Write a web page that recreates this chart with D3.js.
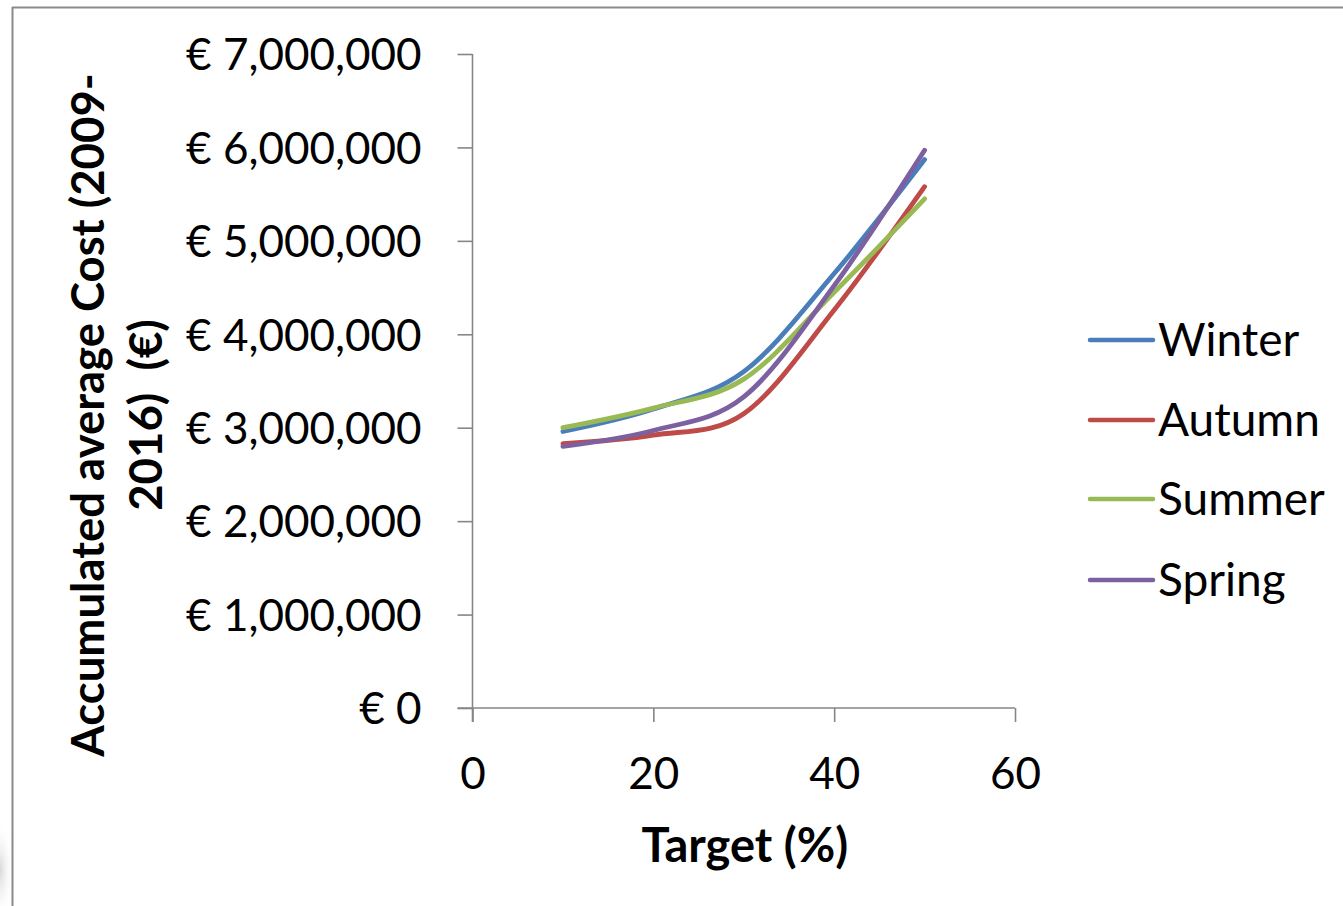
<!DOCTYPE html>
<html>
<head>
<meta charset="utf-8">
<script src="https://cdn.jsdelivr.net/npm/d3@7"></script>
<style>
html,body{margin:0;padding:0;background:#fff;}
svg{display:block;font-family:Lato, "Open Sans", sans-serif;}
</style>
</head>
<body>
<svg id="chart" width="1343" height="906"></svg>
<script>
// ---- data ----
const targets = [10, 20, 30, 40, 50];
const seriesNames = ["Winter", "Autumn", "Summer", "Spring"];
const winter = [2960000, 3200000, 3600000, 4650000, 5870000];
const autumn = [2830000, 2920000, 3150000, 4260000, 5580000];
const summer = [3000000, 3210000, 3520000, 4450000, 5450000];
const spring = [2800000, 2970000, 3330000, 4520000, 5970000];
const seriesColors = ["#4A7EBB", "#BE4B48", "#98B954", "#7D60A0"];
const xTicks = [0, 20, 40, 60];
const yTicks = [0, 1000000, 2000000, 3000000, 4000000, 5000000, 6000000, 7000000];
const xTitle = "Target (%)";
const yTitleLines = ["Accumulated average Cost (2009-", "2016)  (€)"];

const seriesValues = [winter, autumn, summer, spring];

const svg = d3.select("#chart");

// soft shadow at bottom-left corner
const defs = svg.append("defs");
const rg = defs.append("radialGradient").attr("id", "shadow");
rg.append("stop").attr("offset", "0%").attr("stop-color", "#d8d8d8");
rg.append("stop").attr("offset", "100%").attr("stop-color", "#ffffff").attr("stop-opacity", 0);
svg.append("ellipse").attr("cx", 0).attr("cy", 870).attr("rx", 14).attr("ry", 50)
  .attr("fill", "url(#shadow)");

// frame
svg.append("line").attr("x1", 12).attr("x2", 1343).attr("y1", 7.5).attr("y2", 7.5)
  .attr("stroke", "#8a8a8a").attr("stroke-width", 2);
svg.append("line").attr("x1", 12.5).attr("x2", 12.5).attr("y1", 7).attr("y2", 906)
  .attr("stroke", "#8a8a8a").attr("stroke-width", 2);

const pLeft = 472.5, pRight = 1015, pTop = 54, pBottom = 708;
const x = d3.scaleLinear().domain([0, 60]).range([pLeft, pRight]);
const y = d3.scaleLinear().domain([0, 7000000]).range([pBottom, pTop]);

const axisColor = "#868686";
const fmt = v => "€ " + d3.format(",")(v);

const yAxis = svg.append("g").attr("transform", `translate(${pLeft},0)`)
  .call(d3.axisLeft(y).tickValues(yTicks).tickSize(15).tickPadding(36).tickFormat(fmt));
const xAxis = svg.append("g").attr("transform", `translate(0,${pBottom})`)
  .call(d3.axisBottom(x).tickValues(xTicks).tickSize(14).tickPadding(36).tickFormat(d3.format("d")));

[yAxis, xAxis].forEach(a => {
  a.select(".domain").attr("stroke", axisColor).attr("stroke-width", 1.6);
  a.selectAll(".tick line").attr("stroke", axisColor).attr("stroke-width", 1.6);
  a.selectAll("text").attr("fill", "#000").attr("font-size", 44).attr("font-family", "Lato, 'Open Sans', sans-serif");
});
yAxis.select(".domain").attr("d", `M0,${pTop}V${pBottom + 14}`);
xAxis.select(".domain").attr("d", `M${pLeft - 15},0H${pRight}`);
yAxis.selectAll(".tick text").attr("dy", "0.36em");
xAxis.selectAll(".tick text").attr("dy", "0.71em");

// lines
const line = d3.line()
  .x((d, i) => x(targets[i]))
  .y(d => y(d))
  .curve(d3.curveCatmullRom.alpha(0));

svg.append("g").selectAll("path").data(seriesValues).join("path")
  .attr("d", d => line(d))
  .attr("fill", "none")
  .attr("stroke", (d, i) => seriesColors[i])
  .attr("stroke-width", 4.8)
  .attr("stroke-linecap", "round");

// axis titles
svg.append("text").attr("x", (pLeft + pRight) / 2 + 1).attr("y", 862)
  .attr("text-anchor", "middle").attr("font-size", 47).attr("font-weight", "bold")
  .text(xTitle);

const yt = svg.append("g").attr("transform", "translate(0,415) rotate(-90)");
yt.selectAll("text").data(yTitleLines).join("text")
  .attr("x", 0).attr("y", (d, i) => 104 + i * 58)
  .attr("text-anchor", "middle").attr("font-size", 45.5).attr("font-weight", "bold")
  .style("white-space", "pre")
  .text(d => d);

// legend
const legendY = [340, 420, 499, 580];
const lg = svg.append("g");
seriesNames.forEach((name, i) => {
  lg.append("line").attr("x1", 1090).attr("x2", 1153)
    .attr("y1", legendY[i]).attr("y2", legendY[i])
    .attr("stroke", seriesColors[i]).attr("stroke-width", 4.5).attr("stroke-linecap", "round");
  lg.append("text").attr("x", 1158).attr("y", legendY[i] + 16)
    .attr("font-size", 46).text(name);
});
</script>
</body>
</html>
